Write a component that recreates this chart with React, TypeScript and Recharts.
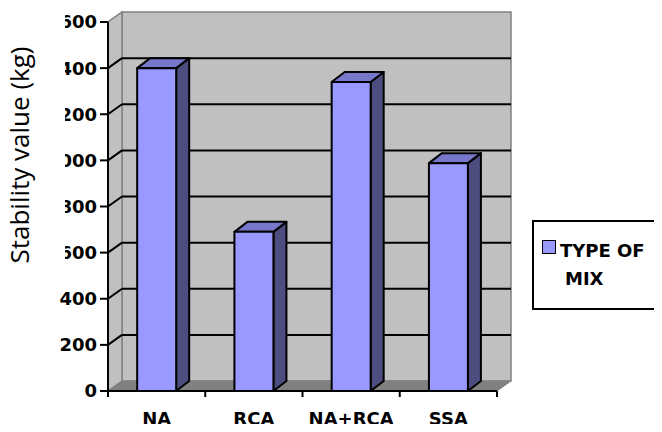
import React from 'react';
import { BarChart, Bar, XAxis, YAxis, ReferenceArea, ReferenceLine, Legend } from 'recharts';

const categories = ['NA', 'RCA', 'NA+RCA', 'SSA'];
const stabilityValues = [1400, 690, 1340, 988];
const yTicks = [0, 200, 400, 600, 800, 1000, 1200, 1400, 1600];
const seriesName = 'TYPE OF MIX';
const yTitle = 'Stability value (kg)';

const data = categories.map((c, i) => ({ mix: c, value: stabilityValues[i] }));
const gridValues = yTicks.filter((v) => v > 0 && v < yTicks[yTicks.length - 1]);

const FONT = "'DejaVu Sans', sans-serif";
const CHART_W = 662;
const CHART_H = 432;
const MARGIN = { top: 22, right: 165, left: 0, bottom: 8 };
const Y_AXIS_W = 108;
const X_AXIS_H = 33;
const PLOT_W = CHART_W - MARGIN.left - MARGIN.right - Y_AXIS_W;
const DX = 14;
const DY = 10;
const BDX = 13;
// region of the y-axis title box that hides the left part of the tick labels
const TITLE_BOX_RIGHT = 65;
const TITLE_BOX_BOTTOM = 280;

const Walls = (p: any) => {
  const { x, y, width: w, height: h } = p;
  return (
    <g>
      <rect x={x + DX} y={y - DY} width={w} height={h} fill="#C0C0C0" stroke="#808080" strokeWidth={1.5} />
      <polygon
        points={`${x},${y + h} ${x},${y} ${x + DX},${y - DY} ${x + DX},${y + h - DY}`}
        fill="#C0C0C0"
        stroke="#808080"
        strokeWidth={1.5}
      />
      <polygon
        points={`${x},${y + h} ${x + DX},${y + h - DY} ${x + w + DX},${y + h - DY} ${x + w},${y + h}`}
        fill="#808080"
        stroke="#808080"
        strokeWidth={1}
      />
    </g>
  );
};

const GridLine = (p: any) => {
  const { x1, y1, x2, y2 } = p;
  return (
    <g>
      <line x1={x1} y1={y1} x2={x1 + DX} y2={y1 - DY} stroke="#000" strokeWidth={2} />
      <line x1={x1 + DX} y1={y1 - DY} x2={x2 + DX} y2={y2 - DY} stroke="#000" strokeWidth={2} />
    </g>
  );
};

const Bar3D = (p: any) => {
  const { x, y, width: w, height: h } = p;
  if (h == null || w == null) return null;
  return (
    <g strokeLinejoin="round">
      <polygon
        points={`${x + w},${y} ${x + w + BDX},${y - DY} ${x + w + BDX},${y + h - DY} ${x + w},${y + h}`}
        fill="#4D4D80"
        stroke="#000"
        strokeWidth={2}
      />
      <polygon
        points={`${x},${y} ${x + BDX},${y - DY} ${x + w + BDX},${y - DY} ${x + w},${y}`}
        fill="#7777CC"
        stroke="#000"
        strokeWidth={2}
      />
      <rect x={x} y={y} width={w} height={h} fill="#9999FF" stroke="#000" strokeWidth={2} />
    </g>
  );
};

const XTick = (p: any) => {
  const { x, y, payload, index } = p;
  const half = PLOT_W / categories.length / 2;
  const axisY = y - 21;
  return (
    <g>
      <line x1={x - half} y1={axisY} x2={x - half} y2={axisY + 6} stroke="#000" strokeWidth={2} />
      {index === categories.length - 1 && (
        <line x1={x + half} y1={axisY} x2={x + half} y2={axisY + 6} stroke="#000" strokeWidth={2} />
      )}
      <text x={x} y={y} dy="0.71em" textAnchor="middle" fill="#000" fontSize={18} fontWeight={700} fontFamily={FONT}>
        {payload.value}
      </text>
    </g>
  );
};

const YTick = (p: any) => {
  const { x, y, payload, index } = p;
  const clipped = y < TITLE_BOX_BOTTOM;
  const id = `ytick-clip-${index}`;
  return (
    <g>
      {clipped && (
        <defs>
          <clipPath id={id}>
            <rect x={TITLE_BOX_RIGHT} y={y - 20} width={200} height={40} />
          </clipPath>
        </defs>
      )}
      <text
        x={x}
        y={y}
        dy="0.36em"
        textAnchor="end"
        fill="#000"
        fontSize={18}
        fontWeight={700}
        fontFamily={FONT}
        clipPath={clipped ? `url(#${id})` : undefined}
      >
        {payload.value}
      </text>
    </g>
  );
};

const YTitle = () => (
  <text
    x={29}
    y={155}
    transform="rotate(-90 29 155)"
    textAnchor="middle"
    fill="#000"
    fontSize={26}
    fontFamily="'Open Sans', sans-serif"
  >
    {yTitle}
  </text>
);

const LegendBox = () => (
  <div
    style={{
      boxSizing: 'border-box',
      width: 124,
      height: 90,
      border: '2px solid #000',
      background: '#fff',
      position: 'relative',
      fontFamily: FONT,
      fontWeight: 700,
      fontSize: 18,
      color: '#000',
    }}
  >
    <div
      style={{
        position: 'absolute',
        left: 8,
        top: 18,
        width: 14,
        height: 14,
        boxSizing: 'border-box',
        background: '#9999FF',
        border: '1.5px solid #000',
      }}
    />
    <div
      style={{
        position: 'absolute',
        left: 31,
        top: 15,
        width: 90,
        lineHeight: '28px',
        textIndent: -5,
        whiteSpace: 'normal',
      }}
    >
      {seriesName}
    </div>
  </div>
);

export default function App() {
  return (
    <div style={{ margin: -8, width: CHART_W, height: CHART_H, background: '#fff' }}>
      <BarChart width={CHART_W} height={CHART_H} data={data} margin={MARGIN} barCategoryGap="30%">
        <ReferenceArea y1={0} y2={yTicks[yTicks.length - 1]} shape={Walls} zIndex={-60} ifOverflow="visible" />
        {gridValues.map((v) => (
          <ReferenceLine key={v} y={v} shape={GridLine} zIndex={-55} ifOverflow="visible" />
        ))}
        <XAxis
          dataKey="mix"
          height={X_AXIS_H}
          axisLine={{ stroke: '#000', strokeWidth: 2 }}
          tickLine={false}
          tickSize={6}
          tickMargin={15}
          tick={<XTick />}
          interval={0}
        />
        <YAxis
          width={Y_AXIS_W}
          domain={[0, yTicks[yTicks.length - 1]]}
          ticks={yTicks}
          interval={0}
          axisLine={{ stroke: '#000', strokeWidth: 2 }}
          tickLine={{ stroke: '#000', strokeWidth: 2 }}
          tickSize={8}
          tickMargin={3}
          tick={<YTick />}
          label={<YTitle />}
        />
        <Legend
          layout="vertical"
          align="center"
          verticalAlign="middle"
          content={<LegendBox />}
          wrapperStyle={{ left: 532, top: 220, width: 124, height: 90 }}
        />
        <Bar dataKey="value" name={seriesName} fill="#9999FF" shape={Bar3D} isAnimationActive={false} />
      </BarChart>
    </div>
  );
}
